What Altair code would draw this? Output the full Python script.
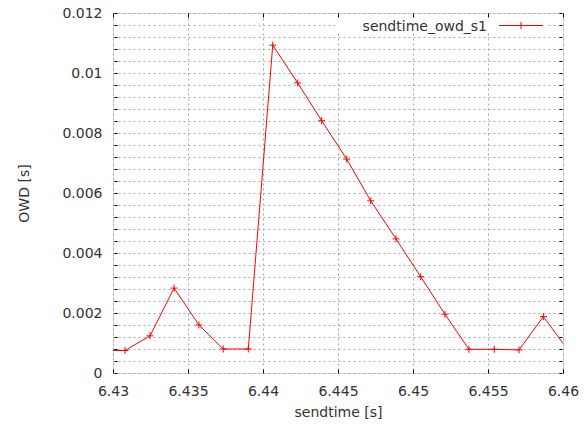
import altair as alt
import pandas as pd

# data (gnuplot style chart)
send_time = [6.42915, 6.4308, 6.43247, 6.43407, 6.43573, 6.43735, 6.43902,
             6.44065, 6.44231, 6.44391, 6.44558, 6.44718, 6.44887, 6.45051,
             6.45213, 6.45373, 6.45542, 6.45707, 6.45869, 6.46035]
owd = [0.00075, 0.00075, 0.00124, 0.00283, 0.0016, 0.0008, 0.0008,
       0.01093, 0.00967, 0.00841, 0.00713, 0.00574, 0.00447, 0.00321,
       0.00196, 0.00079, 0.00079, 0.00077, 0.00188, 0.00075]

x_ticks = [6.43, 6.435, 6.44, 6.445, 6.45, 6.455, 6.46]
y_grid = [0, 0.0004, 0.0008, 0.0012, 0.0016, 0.002, 0.0024, 0.0028, 0.0032,
          0.0036, 0.004, 0.0044, 0.0048, 0.0052, 0.0056, 0.006, 0.0064,
          0.0068, 0.0072, 0.0076, 0.008, 0.0084, 0.0088, 0.0092, 0.0096,
          0.01, 0.0104, 0.0108, 0.0112, 0.0116, 0.012]
series_name = ["sendtime_owd_s1"]

df = pd.DataFrame({"t": send_time, "owd": owd})

FONT = "DejaVu Sans"
TXT = "#333333"
PLUS = "M-1,0H1M0,-1V1"

xscale = alt.Scale(domain=[6.43, 6.46], nice=False, zero=False)
yscale = alt.Scale(domain=[0, 0.012], nice=False, zero=False)

x_bottom = alt.Axis(orient="bottom", values=x_ticks, format="~g", offset=-4,
                    tickSize=4, tickColor="black", domain=False,
                    labelPadding=11, labelFont=FONT, labelFontSize=14,
                    labelColor=TXT, title="sendtime [s]", titleFont=FONT,
                    titleFontSize=14, titleFontWeight="normal", titleColor=TXT,
                    titlePadding=7, grid=True, gridColor="#a8a8a8",
                    gridDash=[2, 3], gridWidth=1, labelFlush=False)
x_top = alt.Axis(orient="top", values=x_ticks, labels=False, offset=-4,
                 tickSize=4, tickColor="black", domain=False, grid=False,
                 title=None)
y_left = alt.Axis(orient="left", values=y_grid,
                  labelExpr="abs(datum.value*500 - round(datum.value*500)) < 1e-6 ? format(datum.value, '~g') : ''",
                  offset=-4, tickSize=3, tickColor="black", domain=False,
                  labelPadding=12, labelFont=FONT, labelFontSize=14,
                  labelColor=TXT, title="OWD [s]", titleFont=FONT,
                  titleFontSize=14, titleFontWeight="normal", titleColor=TXT,
                  titlePadding=30, grid=True, gridColor="#a8a8a8",
                  gridDash=[2, 3], gridWidth=1, labelFlush=False)
y_right = alt.Axis(orient="right", values=y_grid, labels=False, offset=-4,
                   tickSize=3, tickColor="black", domain=False, grid=False,
                   title=None)

base = alt.Chart(df)
line = base.mark_line(color="#ff0000", strokeWidth=1, clip=True).encode(
    x=alt.X("t:Q", scale=xscale, axis=x_bottom),
    y=alt.Y("owd:Q", scale=yscale, axis=y_left),
)
pts = base.mark_point(shape=PLUS, size=49, color="#ff0000", strokeWidth=1,
                      filled=False, opacity=1, clip=True).encode(
    x=alt.X("t:Q", scale=xscale, axis=x_top),
    y=alt.Y("owd:Q", scale=yscale, axis=y_right),
)

leg_df = pd.DataFrame({"label": series_name})
leg_bg = alt.Chart(leg_df).mark_rect(color="white").encode(
    x=alt.value(222), x2=alt.value(434), y=alt.value(5), y2=alt.value(19))
leg_text = alt.Chart(leg_df).mark_text(
    align="right", baseline="alphabetic", font=FONT, fontSize=14, color=TXT
).encode(x=alt.value(374), y=alt.value(18), text="label:N")
leg_line = alt.Chart(leg_df).mark_rule(color="#ff0000", strokeWidth=1).encode(
    x=alt.value(386), x2=alt.value(430), y=alt.value(12.5))
leg_pt = alt.Chart(leg_df).mark_point(shape=PLUS, size=49, color="#ff0000",
                                      strokeWidth=1, filled=False, opacity=1).encode(
    x=alt.value(408), y=alt.value(12.5))

chart = alt.layer(line, pts, leg_bg, leg_text, leg_line, leg_pt).resolve_axis(
    x="independent", y="independent"
).properties(
    width=450, height=360,
    autosize=alt.AutoSizeParams(type="none"),
    padding={"left": 105, "top": 5, "right": 16, "bottom": 50},
).configure_view(stroke="black", strokeWidth=1).configure(font=FONT)

chart.save("out.html", embed_options={"renderer": "svg", "actions": False})
